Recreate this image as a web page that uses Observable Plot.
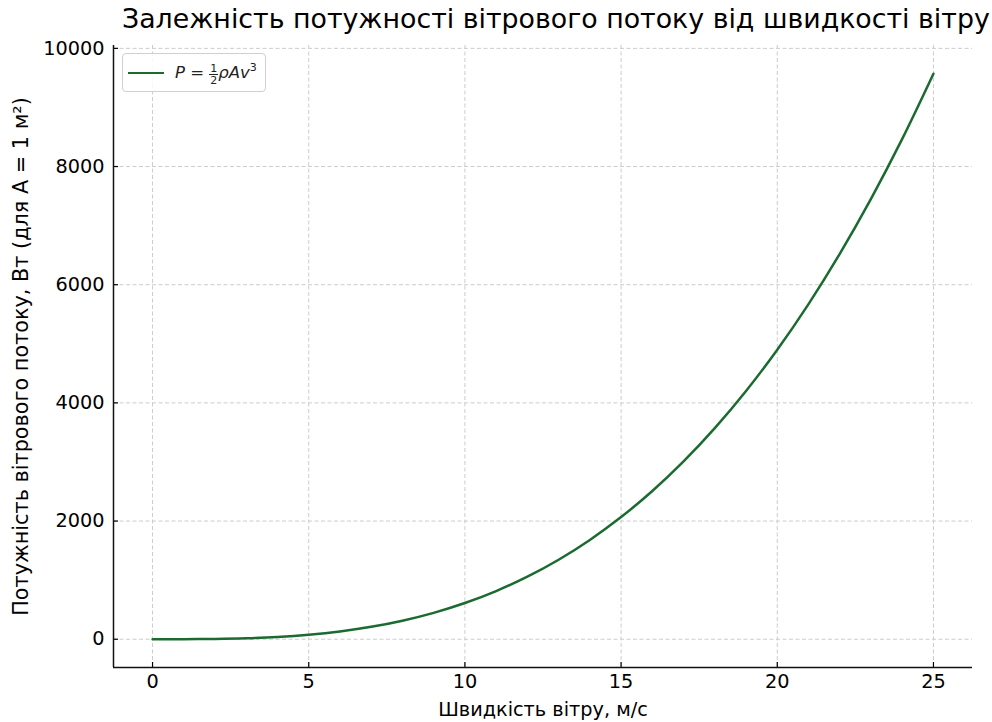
<!DOCTYPE html>
<html>
<head>
<meta charset="utf-8">
<script src="https://cdn.jsdelivr.net/npm/d3@7"></script>
<script src="https://cdn.jsdelivr.net/npm/@observablehq/plot@0.6"></script>
<style>
  html, body { margin: 0; padding: 0; background: #fff; }
  body { width: 992px; height: 722px; position: relative; overflow: hidden; font-family: "DejaVu Sans", sans-serif; }
  #title { position: absolute; left: 122px; top: 3px; font-size: 26.8px; white-space: nowrap; color: #000; line-height: 32px; }
  #chart { position: absolute; left: 0; top: 36px; }
  #legend { position: absolute; left: 122px; top: 53px; width: 144px; height: 39px; border: 1px solid #d0d0d0; border-radius: 4px; background: rgba(255,255,255,0.85); box-sizing: border-box; }
  #legend .sw { position: absolute; left: 5px; top: 18px; width: 36px; height: 0; border-top: 2.5px solid #1b6b31; }
  #legend .tx { position: absolute; left: 52px; top: 7px; font-size: 16.5px; color: #222; white-space: nowrap; font-family: "DejaVu Sans", sans-serif; }
  .frac { display: inline-block; vertical-align: -6px; text-align: center; font-size: 11px; line-height: 11px; font-style: normal; }
  .frac span { display: block; }
  .frac .num { border-bottom: 1px solid #222; padding: 0 1px; }
</style>
</head>
<body>
<div id="title">Залежність потужності вітрового потоку від швидкості вітру</div>
<div id="chart"></div>
<div id="legend"><div class="sw"></div><div class="tx"><i>P</i> = <span class="frac"><span class="num">1</span><span>2</span></span><i>ρAv</i><sup style="font-size:11px">3</sup></div></div>
<script>
// Wind speed, m/s
const speed = [0, 1, 2, 3, 4, 5, 6, 7, 8, 9, 10, 11, 12, 13, 14, 15, 16, 17, 18, 19, 20, 21, 22, 23, 24, 25];
// Wind power, W (A = 1 m²)
const power = [0, 0.6, 4.9, 16.5, 39.2, 76.6, 132.3, 210.1, 313.6, 446.5, 612.5, 815.2, 1058.4, 1345.7, 1680.7, 2067.2, 2508.8, 3009.3, 3572.1, 4201.1, 4900, 5672.4, 6522.2, 7452.5, 8467.2, 9570.3];
const xTicks = [0, 5, 10, 15, 20, 25];
const yTicks = [0, 2000, 4000, 6000, 8000, 10000];

const data = speed.map((v, i) => ({v, p: power[i]}));
const xDom = [-1.25, 26.25];
const yDom = [-478.5, 10048.5];
const xLabel = "Швидкість вітру, м/с";
const yLabel = "Потужність вітрового потоку, Вт (для А = 1 м²)";

const chart = Plot.plot({
  width: 992,
  height: 686,
  marginTop: 9,
  marginLeft: 113,
  marginRight: 20,
  marginBottom: 55,
  style: {fontFamily: "DejaVu Sans, sans-serif", fontSize: "19.3px", color: "#000", background: "transparent"},
  x: {domain: xDom},
  y: {domain: yDom},
  marks: [
    Plot.ruleX(xTicks, {stroke: "#cccccc", strokeWidth: 1, strokeDasharray: "4,2.5"}),
    Plot.ruleY(yTicks, {stroke: "#cccccc", strokeWidth: 1, strokeDasharray: "4,2.5"}),
    Plot.axisX({ticks: xTicks, tickFormat: d => String(d), tickSize: -5, tickPadding: 12, label: null, strokeWidth: 1.2}),
    Plot.axisY({ticks: yTicks, tickFormat: d => String(d), tickSize: -5, tickPadding: 14, label: null, strokeWidth: 1.2}),
    Plot.axisX({ticks: [], label: xLabel, labelAnchor: "center", labelArrow: "none", labelOffset: 48, fontSize: "19.3px"}),
    Plot.axisY({ticks: [], label: yLabel, labelAnchor: "center", labelArrow: "none", labelOffset: 100, fontSize: "20.8px"}),
    Plot.ruleX([xDom[0]], {stroke: "#111", strokeWidth: 1.5}),
    Plot.ruleY([yDom[0]], {stroke: "#111", strokeWidth: 1.5}),
    Plot.line(data, {x: "v", y: "p", stroke: "#1b6b31", strokeWidth: 2.5, curve: "catmull-rom"})
  ]
});
document.getElementById("chart").appendChild(chart);
</script>
</body>
</html>
